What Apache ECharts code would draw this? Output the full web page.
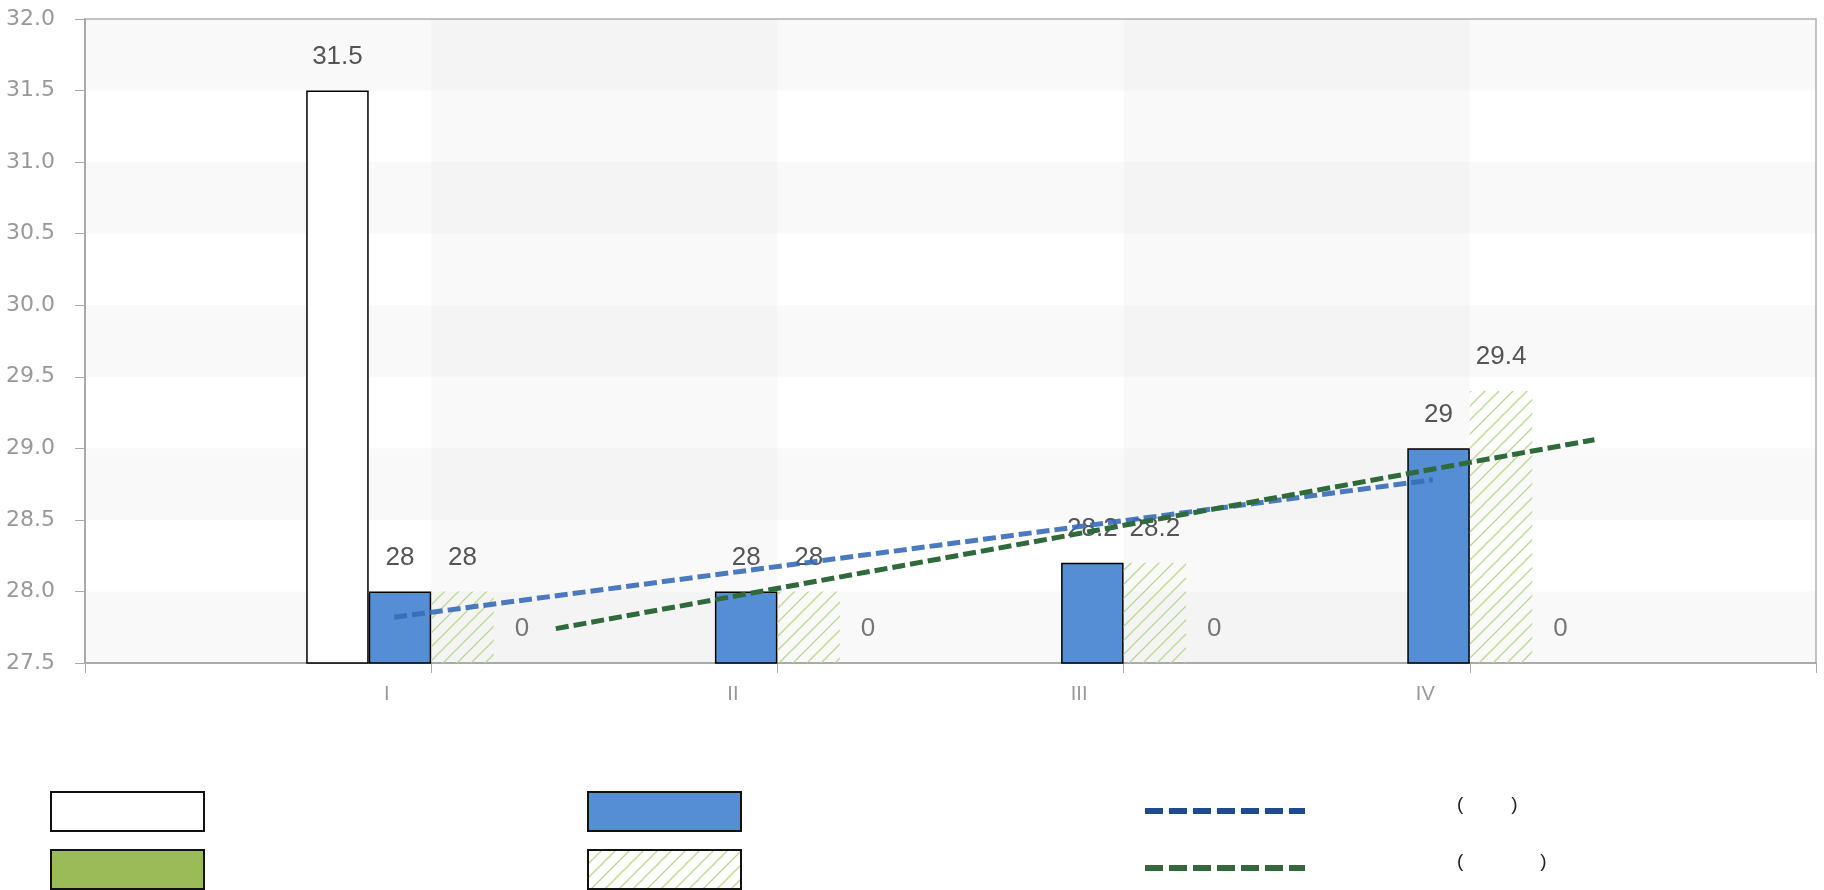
<!DOCTYPE html>
<html>
<head>
<meta charset="utf-8">
<script src="https://cdn.jsdelivr.net/npm/echarts@6/dist/echarts.min.js"></script>
<style>
html,body{margin:0;padding:0;background:#fff;}
#chart{width:1824px;height:890px;}
</style>
</head>
<body>
<div id="chart"></div>
<script>
// ---- data ----
const quarters = ['I', 'II', 'III', 'IV'];
const baseValues = [31.5, null, null, null];      // white bars
const actualValues = [28, 28, 28.2, 29];          // blue bars
const greenValues = [0, 0, 0, 0];                 // green bars
const planValues = [28, 28, 28.2, 29.4];          // hatched bars
const blueTrend = [27.82, 28.14, 28.46, 28.78];   // blue dashed trend
const greenTrend = [27.74, 28.18, 28.62, 29.06];  // green dashed trend
const yTicks = {min: 27.5, max: 32, interval: 0.5};

// ---- build ----
const cats = [''].concat(quarters, ['']);
const pad = arr => [null].concat(arr, [null]);

function hatch() {
  const s = 14;
  const c = document.createElement('canvas');
  c.width = s; c.height = s;
  const g = c.getContext('2d');
  g.strokeStyle = '#bcd890';
  g.lineWidth = 1.3;
  g.beginPath();
  g.moveTo(0, s); g.lineTo(s, 0);
  g.moveTo(-s / 2, s / 2); g.lineTo(s / 2, -s / 2);
  g.moveTo(s / 2, s * 1.5); g.lineTo(s * 1.5, s / 2);
  g.stroke();
  return c;
}
const hatchColor = {image: hatch(), repeat: 'repeat'};

const N = {
  base: 'base', actual: 'actual', green: 'green', plan: 'plan',
  tBlue: 'trend-actual', tGreen: 'trend-plan'
};
const offBlue = -0.107, offGreen = 0.36, offZero = 0.262;
const FONT = 'Liberation Sans, Arial, sans-serif';

const labelStyle = {show: true, position: 'top', distance: 21, fontSize: 26, color: '#555', fontFamily: FONT};

function boxLegend(name, left, top) {
  return {
    data: [name], left: left, top: top, padding: 0, orient: 'vertical',
    itemWidth: 153, itemHeight: 39, icon: 'rect', selectedMode: false,
    itemStyle: {borderColor: '#111', borderWidth: 2},
    formatter: () => ''
  };
}
function lineLegend(name, color, top, inner) {
  return {
    data: [{name: name, itemStyle: {opacity: 0}, lineStyle: {color: color, width: 6, type: [18, 6], opacity: 1}}],
    left: 1142, top: top, padding: 0, orient: 'vertical',
    itemWidth: 160, itemHeight: 39, selectedMode: false,
    formatter: () => '{s|}({g|})',
    textStyle: {fontSize: 19, color: '#222', fontFamily: FONT, padding: [0, 0, 13, 0],
      rich: {s: {width: 147}, g: {width: inner}}}
  };
}

const chart = echarts.init(document.getElementById('chart'));
chart.setOption({
  animation: false,
  textStyle: {fontFamily: FONT},
  grid: {left: 85, right: 8, top: 19, bottom: 227, show: true, borderColor: '#b4b4b4', borderWidth: 1.5,
    backgroundColor: 'transparent'},
  xAxis: [{
    type: 'category', data: cats, boundaryGap: false,
    axisLine: {lineStyle: {color: '#aaa', width: 2}},
    axisTick: {show: true, length: 10, lineStyle: {color: '#aaa'}},
    axisLabel: {interval: 0, margin: 21,
      formatter: v => v ? '{a|' + v + '}{s|}' : '',
      rich: {a: {fontSize: 20, color: '#999', fontFamily: FONT}, s: {width: 89}}},
    splitLine: {show: false},
    splitArea: {show: true, areaStyle: {color: ['rgba(0,0,0,0)', 'rgba(0,0,0,0.025)']}}
  }, {
    type: 'value', min: 0, max: cats.length - 1, show: false
  }],
  yAxis: {
    type: 'value', min: yTicks.min, max: yTicks.max, interval: yTicks.interval,
    axisLine: {show: true, lineStyle: {color: '#aaa', width: 2}},
    axisTick: {show: true, length: 10, lineStyle: {color: '#aaa'}},
    axisLabel: {fontSize: 22, color: '#999', margin: 30, fontFamily: 'DejaVu Sans, sans-serif',
      formatter: v => v.toFixed(1)},
    splitLine: {show: false},
    splitArea: {show: true, areaStyle: {color: ['rgba(0,0,0,0.025)', 'rgba(0,0,0,0)']}}
  },
  legend: [
    boxLegend(N.base, 50, 791),
    boxLegend(N.green, 50, 849),
    boxLegend(N.actual, 587, 791),
    boxLegend(N.plan, 587, 849),
    lineLegend(N.tBlue, '#1f4b8a', 795, 48),
    lineLegend(N.tGreen, '#33693d', 852, 77)
  ],
  series: [{
    name: N.base, type: 'bar', data: pad(baseValues), barWidth: 62.5, barGap: 0,
    itemStyle: {color: '#ffffff', borderColor: '#000', borderWidth: 1.5}, label: labelStyle
  }, {
    name: N.actual, type: 'bar', data: pad(actualValues), barWidth: 62.5, barGap: 0,
    itemStyle: {color: '#558ed5', borderColor: '#000', borderWidth: 1.5}, label: labelStyle
  }, {
    name: N.plan, type: 'bar', data: pad(planValues), barWidth: 62.5, barGap: 0,
    itemStyle: {color: hatchColor, borderWidth: 0}, label: labelStyle
  }, {
    name: N.green, type: 'bar', data: pad(greenValues), barWidth: 62.5, barGap: 0,
    itemStyle: {color: '#9bbb59', borderColor: '#000', borderWidth: 1.5}, label: labelStyle
  }, {
    // value labels of the green series, whose bars fall below the axis start
    name: 'green-labels', type: 'scatter', xAxisIndex: 1, symbolSize: 0, silent: true,
    data: greenValues.map((v, i) => ({value: [i + 1 + offZero, Math.max(v, yTicks.min)], raw: v})),
    label: Object.assign({}, labelStyle, {formatter: p => String(p.data.raw)})
  }, {
    name: N.tBlue, type: 'line', xAxisIndex: 1, symbol: 'none', showSymbol: false, z: 5,
    data: blueTrend.map((v, i) => [i + 1 + offBlue, v]),
    itemStyle: {color: '#1f4b8a'},
    lineStyle: {color: 'rgba(55,108,185,0.9)', width: 5, type: [13, 5]}
  }, {
    name: N.tGreen, type: 'line', xAxisIndex: 1, symbol: 'none', showSymbol: false, z: 6,
    data: greenTrend.map((v, i) => [i + 1 + offGreen, v]),
    itemStyle: {color: '#33693d'},
    lineStyle: {color: '#2f6a3b', width: 5, type: [13, 5]}
  }]
});
</script>
</body>
</html>
